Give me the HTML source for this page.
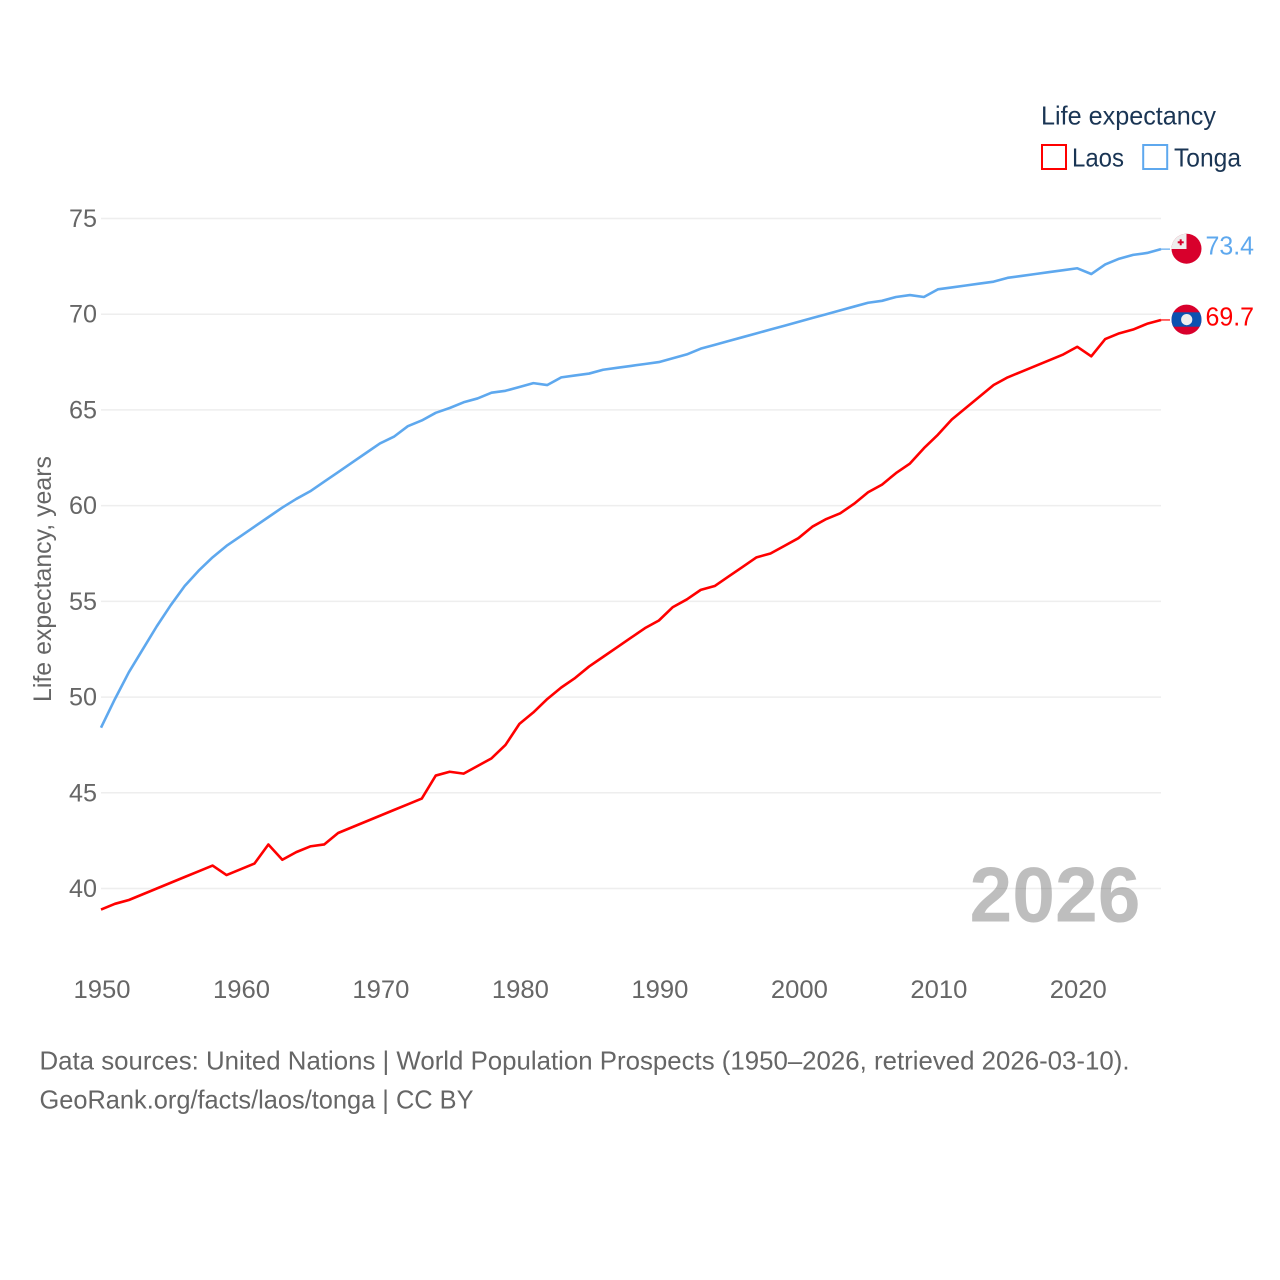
<!DOCTYPE html>
<html lang="en">
<head>
<meta charset="utf-8">
<title>Life expectancy: Laos and Tonga</title>
<style>
html,body{margin:0;padding:0;background:#fff;}
svg{display:block;}
text{font-family:"Liberation Sans",sans-serif;}
</style>
</head>
<body>
<svg id="chart" xmlns="http://www.w3.org/2000/svg" width="1280" height="1280" viewBox="0 0 1280 1280">
  <rect x="0" y="0" width="1280" height="1280" fill="#ffffff"/>
  <g id="grid"></g>
  <g id="yticks"></g>
  <g id="xticks"></g>
  <text transform="translate(51,702) rotate(-90)" font-size="25" fill="#666666" textLength="246" lengthAdjust="spacingAndGlyphs">Life expectancy, years</text>
  <text x="969.500" y="921.500" font-size="78" font-weight="700" fill="#666666" opacity="0.42" textLength="171" lengthAdjust="spacingAndGlyphs">2026</text>
  <path id="line-tonga" fill="none" stroke="#5ea8ee" stroke-width="2.6" stroke-linejoin="round"></path>
  <path id="line-laos" fill="none" stroke="#ff0000" stroke-width="2.6" stroke-linejoin="round"></path>
  <g id="end-markers"></g>
  <g>
    <text x="1041" y="124.500" font-size="26" fill="#1a3554" textLength="175" lengthAdjust="spacingAndGlyphs">Life expectancy</text>
    <rect x="1042" y="145" width="24" height="24" fill="none" stroke="#ff0000" stroke-width="2"/>
    <text x="1072" y="166.500" font-size="26" fill="#1a3554" textLength="52" lengthAdjust="spacingAndGlyphs">Laos</text>
    <rect x="1143.200" y="145" width="24" height="24" fill="none" stroke="#5ea8ee" stroke-width="2"/>
    <text x="1174" y="166.500" font-size="26" fill="#1a3554" textLength="67" lengthAdjust="spacingAndGlyphs">Tonga</text>
  </g>
  <g>
    <clipPath id="clip-tonga"><circle cx="1186.500" cy="248.700" r="15"/></clipPath>
    <g clip-path="url(#clip-tonga)">
      <rect x="1171" y="233" width="31" height="32" fill="#d8002c"/>
      <rect x="1171" y="233" width="15.500" height="16" fill="#eeeeee"/>
      <rect x="1179.700" y="239.300" width="2" height="6" fill="#d8002c"/>
      <rect x="1177.700" y="241.300" width="6" height="2" fill="#d8002c"/>
    </g>
  </g>
  <g>
    <clipPath id="clip-laos"><circle cx="1186.500" cy="319.600" r="15"/></clipPath>
    <g clip-path="url(#clip-laos)">
      <rect x="1171" y="304" width="31" height="32" fill="#d8002c"/>
      <rect x="1171" y="312.300" width="31" height="14.400" fill="#0b52b0"/>
      <circle cx="1186.700" cy="319.600" r="5.600" fill="#eeeeee"/>
    </g>
  </g>
  <text x="1205.500" y="254.500" font-size="26" fill="#5ea8ee" textLength="48.500" lengthAdjust="spacingAndGlyphs">73.4</text>
  <text x="1205.500" y="325.500" font-size="26" fill="#ff0000" textLength="48.500" lengthAdjust="spacingAndGlyphs">69.7</text>
  <text x="39.500" y="1069.500" font-size="26" fill="#666666" textLength="1090" lengthAdjust="spacingAndGlyphs">Data sources: United Nations | World Population Prospects (1950–2026, retrieved 2026-03-10).</text>
  <text x="39.500" y="1108.500" font-size="26" fill="#666666" textLength="434" lengthAdjust="spacingAndGlyphs">GeoRank.org/facts/laos/tonga | CC BY</text>
</svg>
<script>
const startYear = 1950;
const xTickYears = [1950, 1960, 1970, 1980, 1990, 2000, 2010, 2020];
const yTickValues = [40, 45, 50, 55, 60, 65, 70, 75];
const laosValues = [38.9,39.2,39.4,39.7,40.0,40.3,40.6,40.9,41.2,40.7,41.0,41.3,42.3,41.5,41.9,42.2,42.3,42.9,43.2,43.5,43.8,44.1,44.4,44.7,45.9,46.1,46.0,46.4,46.8,47.5,48.6,49.2,49.9,50.5,51.0,51.6,52.1,52.6,53.1,53.6,54.0,54.7,55.1,55.6,55.8,56.3,56.8,57.3,57.5,57.9,58.3,58.9,59.3,59.6,60.1,60.7,61.1,61.7,62.2,63.0,63.7,64.5,65.1,65.7,66.3,66.7,67.0,67.3,67.6,67.9,68.3,67.8,68.7,69.0,69.2,69.5,69.7];
const tongaValues = [48.4,49.9,51.3,52.5,53.7,54.8,55.8,56.6,57.3,57.9,58.4,58.9,59.4,59.9,60.35,60.75,61.25,61.75,62.25,62.75,63.25,63.6,64.15,64.45,64.85,65.1,65.4,65.6,65.9,66.0,66.2,66.4,66.3,66.7,66.8,66.9,67.1,67.2,67.3,67.4,67.5,67.7,67.9,68.2,68.4,68.6,68.8,69.0,69.2,69.4,69.6,69.8,70.0,70.2,70.4,70.6,70.7,70.9,71.0,70.9,71.3,71.4,71.5,71.6,71.7,71.9,72.0,72.1,72.2,72.3,72.4,72.1,72.6,72.9,73.1,73.2,73.4];

const SVG_NS = 'http://www.w3.org/2000/svg';
function xScale(year) { return 101 + (year - 1950) * (1060 / 76); }
function yScale(value) { return 888.5 - (value - 40) * (670 / 35); }
function linePath(values) {
  return values.map(function (v, i) {
    return (i ? 'L' : 'M') + xScale(startYear + i).toFixed(2) + ' ' + yScale(v).toFixed(2);
  }).join(' ');
}

const grid = document.getElementById('grid');
const yticks = document.getElementById('yticks');
const xticks = document.getElementById('xticks');

yTickValues.forEach(function (v) {
  const line = document.createElementNS(SVG_NS, 'line');
  
  
  line.setAttribute('x1', xScale(1950));
  line.setAttribute('x2', xScale(2026));
  line.setAttribute('y1', yScale(v));
  line.setAttribute('y2', yScale(v));
  line.setAttribute('stroke', '#eeeeee');
  line.setAttribute('stroke-width', '1.5');
  grid.appendChild(line);

  const label = document.createElementNS(SVG_NS, 'text');
  
  
  label.setAttribute('x', 69);
  label.setAttribute('y', yScale(v) + 8.5);
  label.setAttribute('font-size', '25');
  label.setAttribute('fill', '#666666');
  label.setAttribute('textLength', '28');
  label.setAttribute('lengthAdjust', 'spacingAndGlyphs');
  label.textContent = String(v);
  yticks.appendChild(label);
});

xTickYears.forEach(function (year) {
  const label = document.createElementNS(SVG_NS, 'text');
  
  
  label.setAttribute('x', xScale(year) - 27.5);
  label.setAttribute('y', 998);
  label.setAttribute('font-size', '25');
  label.setAttribute('fill', '#666666');
  label.setAttribute('textLength', '57');
  label.setAttribute('lengthAdjust', 'spacingAndGlyphs');
  label.textContent = String(year);
  xticks.appendChild(label);
});

document.getElementById('line-laos').setAttribute('d', linePath(laosValues));
document.getElementById('line-tonga').setAttribute('d', linePath(tongaValues));

const markers = document.getElementById('end-markers');
const lastLaos = laosValues[laosValues.length - 1];
const lastTonga = tongaValues[tongaValues.length - 1];

const stubLaos = document.createElementNS(SVG_NS, 'line');


stubLaos.setAttribute('x1', xScale(2026));
stubLaos.setAttribute('x2', 1170);
stubLaos.setAttribute('y1', yScale(lastLaos));
stubLaos.setAttribute('y2', yScale(lastLaos));
stubLaos.setAttribute('stroke', '#ff0000');
stubLaos.setAttribute('stroke-width', '1.2');
markers.appendChild(stubLaos);

const stubTonga = document.createElementNS(SVG_NS, 'line');


stubTonga.setAttribute('x1', xScale(2026));
stubTonga.setAttribute('x2', 1170);
stubTonga.setAttribute('y1', yScale(lastTonga));
stubTonga.setAttribute('y2', yScale(lastTonga));
stubTonga.setAttribute('stroke', '#5ea8ee');
stubTonga.setAttribute('stroke-width', '1.2');
markers.appendChild(stubTonga);
</script>
</body>
</html>
